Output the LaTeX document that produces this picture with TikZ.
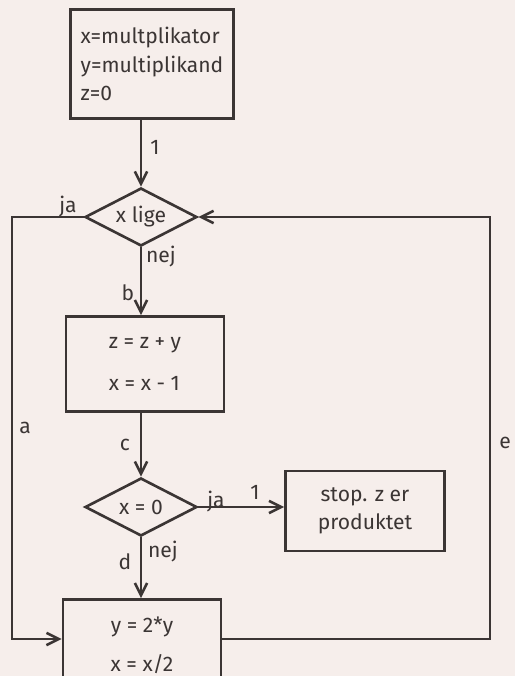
\documentclass[tikz,border=0pt]{standalone}
\usepackage{fontspec}
\setmainfont{Fira Sans}
\usetikzlibrary{arrows.meta,shapes.geometric}
\definecolor{paper}{HTML}{F6EEEB}
\definecolor{ink}{HTML}{3B3534}
\begin{document}
\begin{tikzpicture}[x=0.02cm, y=-0.02cm, line width=1.5pt, draw=ink,
        >={Straight Barb[length=7pt,width=7pt]},
        every node/.style={font=\fontsize{12}{16}\selectfont, text=ink},
        box/.style={draw=ink, rectangle, inner sep=0pt, align=left},
        test/.style={draw=ink, diamond, aspect=2, inner sep=0pt, minimum width=2.24cm, minimum height=1.16cm},
        tag/.style={inner sep=1pt}]
        \fill[paper] (0,0) rectangle (515,676);
        \useasboundingbox (0,0) rectangle (515,676);
        % start
        \node[box, minimum width=3.26cm, minimum height=2.18cm] (start) at (152,64) {x=multplikator\\y=multiplikand\\z=0};
        % x lige
        \node[test] (even) at (141,217) {x lige};
        % z = z + y
        \node[box, minimum width=3.16cm, minimum height=1.9cm] (add) at (145,364) {z = z + y\\[8pt]x = x - 1};
        % x = 0
        \node[test] (zero) at (141,507) {x = 0};
        % stop
        \node[box, align=center, minimum width=3.18cm, minimum height=1.6cm] (stop) at (365,511) {stop. z er\\produktet};
        % y = 2*y
        \node[box, align=center, minimum width=3.16cm, minimum height=1.82cm] (double) at (142,645) {y = 2*y\\[6pt]x = x/2};
        \coordinate (left) at (12,0);
        \coordinate (right) at (490,0);
        % connectors
        \draw[->] (start.south -| even) -- (even.north);
        \draw[->] (even.south) -- (add.north -| even);
        \draw[->] (add.south -| even) -- (zero.north);
        \draw[->] (zero.east) -- (stop.west |- zero);
        \draw[->] (zero.south) -- (double.north -| zero);
        \draw[->] (even.west) -- (left |- even) -- (left |- 0,639) -- (double.west |- 0,639);
        \draw[->] (double.east |- 0,639) -- (right |- 0,639) -- (right |- even) -- (even.east);
        % labels
        \node[tag] (l1) at (155,147) {1};
        \node[tag] (lja1) at (68,207) {ja};
        \node[tag] (lnej1) at (161,257) {nej};
        \node[tag] (lb) at (128,293) {b};
        \node[tag] (la) at (25,428) {a};
        \node[tag] (lc) at (125,445) {c};
        \node[tag] (le) at (505,443) {e};
        \node[tag] (lja2) at (216,502) {ja};
        \node[tag] (l2) at (255,492) {1};
        \node[tag] (lnej2) at (163,552) {nej};
        \node[tag] (ld) at (125,562) {d};
\end{tikzpicture}
\end{document}
